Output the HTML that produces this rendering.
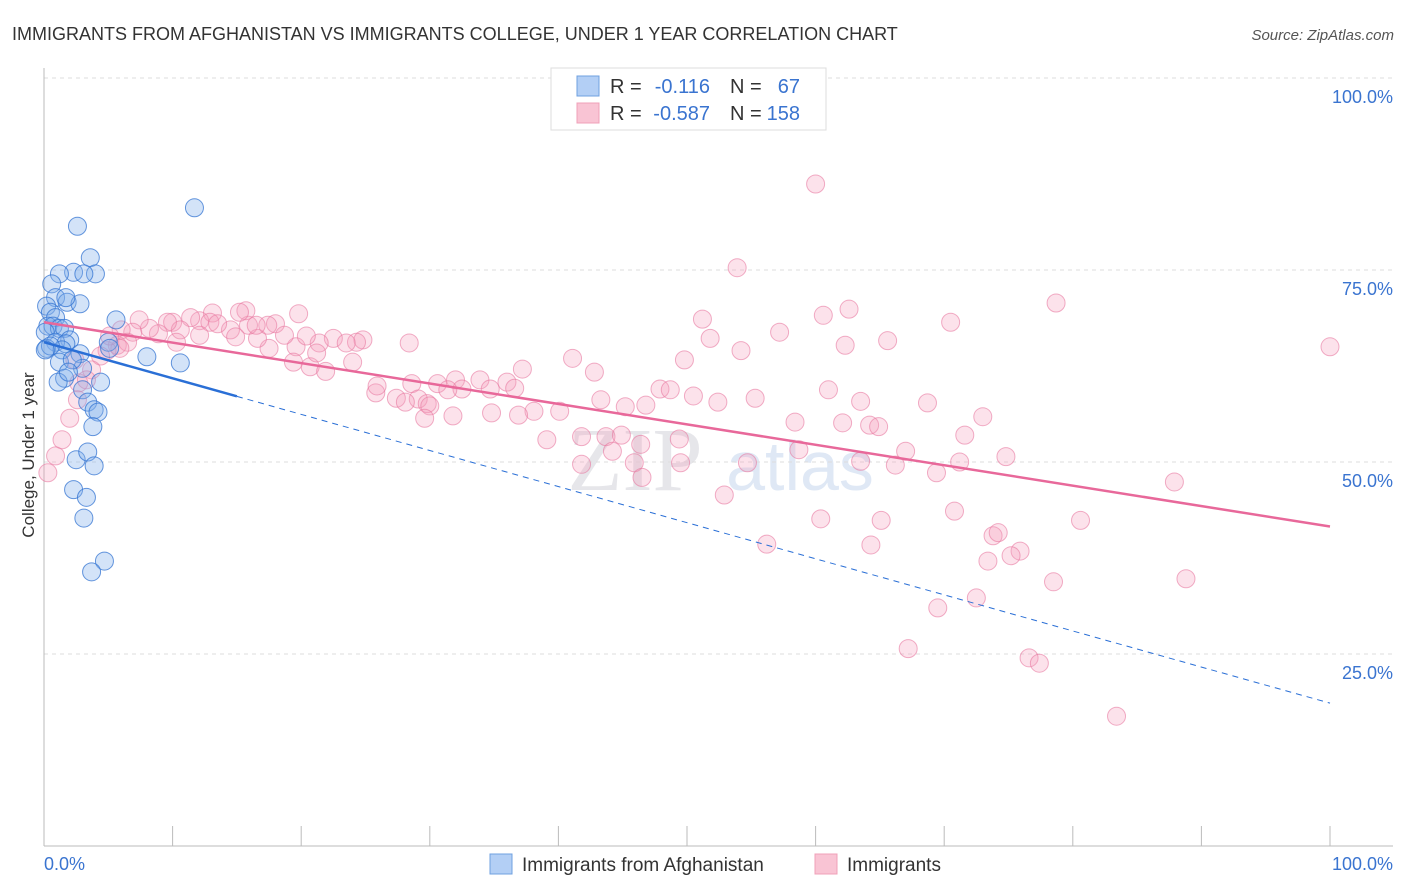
<!DOCTYPE html>
<html><head><meta charset="utf-8"><style>
body{margin:0;background:#fff;font-family:"Liberation Sans",sans-serif;}
svg{display:block}
</style></head><body>
<svg id="chart" width="1406" height="892" xmlns="http://www.w3.org/2000/svg">
<text x="12" y="40" font-size="18" fill="#333">IMMIGRANTS FROM AFGHANISTAN VS IMMIGRANTS COLLEGE, UNDER 1 YEAR CORRELATION CHART</text>
<text x="1394" y="40" font-size="15" fill="#555" font-style="italic" text-anchor="end">Source: ZipAtlas.com</text>
<text transform="translate(34,455) rotate(-90)" font-size="17" fill="#333" text-anchor="middle">College, Under 1 year</text>
<text x="635" y="490" font-size="90" fill="#e6e6ea" font-family="Liberation Serif" text-anchor="middle">ZIP</text>
<text x="800" y="490" font-size="70" fill="#dfe8f5" text-anchor="middle">atlas</text>
<g id="grid"></g><g id="axes"></g><g id="pts-pink"></g><g id="pts-blue"></g><g id="trends"></g>
<g>
<rect x="551" y="68" width="275" height="62" fill="#fff" stroke="#ddd"/>
<rect x="577" y="76" width="22" height="20" fill="#b3cff5" stroke="#6fa0e0"/>
<rect x="577" y="103" width="22" height="20" fill="#f9c4d4" stroke="#f0a0b8"/>
<text x="610" y="93" font-size="20" fill="#333">R = </text><text x="710" y="93" font-size="20" fill="#3a74d0" text-anchor="end">-0.116</text>
<text x="730" y="93" font-size="20" fill="#333">N = </text><text x="800" y="93" font-size="20" fill="#3a74d0" text-anchor="end">67</text>
<text x="610" y="120" font-size="20" fill="#333">R = </text><text x="710" y="120" font-size="20" fill="#3a74d0" text-anchor="end">-0.587</text>
<text x="730" y="120" font-size="20" fill="#333">N = </text><text x="800" y="120" font-size="20" fill="#3a74d0" text-anchor="end">158</text>
</g>
<g>
<rect x="490" y="854" width="22" height="20" fill="#b3cff5" stroke="#6fa0e0"/>
<text x="522" y="871" font-size="19" fill="#333">Immigrants from Afghanistan</text>
<rect x="815" y="854" width="22" height="20" fill="#f9c4d4" stroke="#f0a0b8"/>
<text x="847" y="871" font-size="19" fill="#333">Immigrants</text>
</g>
</svg>
<script>
const yTicks=[100,75,50,25];
const yTickLabels=["100.0%","75.0%","50.0%","25.0%"];
const xTickLabels=["0.0%","100.0%"];
const blueX=[2.6,11.7,3.6,2.3,4.0,1.2,3.1,0.6,0.9,1.8,2.8,0.2,0.5,0.9,5.6,0.3,0.7,1.2,1.6,0.1,2.0,0.9,1.7,0.2,5.0,1.4,8.0,10.6,2.8,1.2,3.0,1.6,4.4,1.1,3.0,3.4,3.9,4.2,3.8,2.5,3.4,3.9,2.3,3.3,3.1,4.7,3.7,0.5,0.1,2.2,5.1,1.7,1.9];
const blueY=[80.7,83.1,76.6,74.7,74.5,74.5,74.5,73.2,71.4,70.8,70.6,70.3,69.5,68.8,68.5,67.7,67.7,67.4,67.4,66.9,65.9,65.6,65.4,64.8,65.6,64.6,63.7,62.9,64.1,63.0,62.2,60.9,60.4,60.4,59.4,57.8,56.8,56.5,54.6,50.3,51.3,49.5,46.4,45.4,42.7,37.1,35.7,65.1,64.6,63.3,64.8,71.4,61.7];
const pinkX=[60.0,53.9,78.7,100.0,70.5,60.6,62.6,51.2,57.2,51.8,54.2,65.6,62.3,49.8,41.1,42.8,61.0,55.3,50.5,52.4,47.9,48.7,46.8,43.3,45.2,37.2,36.0,36.6,33.9,32.0,32.5,30.6,31.4,34.7,28.6,29.1,25.8,27.4,28.1,29.8,30.0,25.9,20.7,21.9,24.0,22.5,24.8,28.4,24.3,23.5,21.4,19.6,17.5,16.6,15.9,14.5,14.9,13.1,15.7,18.0,19.8,20.4,18.7,17.4,12.1,12.9,11.4,10.0,10.6,9.6,8.9,8.2,7.4,6.9,6.0,5.7,6.5,5.9,4.9,4.4,10.3,5.1,12.1,13.5,16.5,15.2,19.4,21.2,38.1,40.1,36.9,31.8,34.8,29.6,39.1,41.8,43.7,44.9,44.2,46.4,49.4,49.5,41.8,45.9,54.7,58.4,58.7,62.1,64.2,64.9,67.0,66.2,71.2,73.0,74.8,69.4,87.9,71.6,52.9,63.5,60.4,65.1,64.3,56.2,80.6,70.8,73.8,74.2,75.9,75.2,73.4,78.5,88.8,72.5,69.5,67.2,76.6,77.4,83.4,46.5,2.4,3.7,2.7,3.3,2.0,1.4,0.9,0.3,2.6,68.7,63.5];
const pinkY=[86.2,75.3,70.7,65.0,68.2,69.1,69.9,68.6,66.9,66.1,64.5,65.8,65.2,63.3,63.5,61.7,59.4,58.3,58.6,57.8,59.5,59.4,57.4,58.1,57.2,62.1,60.4,59.6,60.7,60.7,59.5,60.2,59.4,59.5,60.2,58.2,59.0,58.3,57.8,57.6,57.3,59.9,62.4,61.8,63.0,66.1,65.9,65.5,65.6,65.5,65.5,65.0,64.8,66.1,67.8,67.2,66.3,69.4,69.7,68.0,69.3,66.4,66.5,67.8,68.4,68.2,68.8,68.2,67.2,68.2,66.7,67.4,68.5,66.9,67.2,65.2,65.6,64.8,64.5,63.8,65.6,66.4,66.5,68.0,67.8,69.5,63.0,64.2,56.6,56.6,56.1,56.0,56.4,55.7,52.9,53.3,53.3,53.5,51.4,52.3,53.0,49.9,49.7,49.9,49.9,55.2,51.6,55.1,54.8,54.6,51.4,49.6,50.0,55.9,50.7,48.6,47.4,53.5,45.7,50.1,42.6,42.4,39.2,39.3,42.4,43.6,40.4,40.8,38.4,37.8,37.1,34.4,34.8,32.3,31.0,25.7,24.5,23.8,16.9,48.0,63.3,62.0,60.3,60.7,55.7,52.9,50.8,48.6,58.1,57.7,57.9];
const blueTrend=[65.6,-0.47,15];   // intercept, slope, solid-end x
const pinkTrend=[68.2,-0.266];
const NS="http://www.w3.org/2000/svg";
const X=v=>44+v*12.86, Y=v=>846-v*7.68;
function mk(tag,attrs,parent){const e=document.createElementNS(NS,tag);for(const k in attrs)e.setAttribute(k,attrs[k]);document.getElementById(parent).appendChild(e);return e;}
yTicks.forEach((t,i)=>{
  const g=mk('line',{x1:44,x2:1393,y1:Y(t),y2:Y(t),stroke:'#ddd','stroke-dasharray':'4,4'},'grid');
  
  
  const l=mk('text',{x:1393,y:Y(t)+25,'font-size':18,fill:'#3a74d0','text-anchor':'end'},'axes');
  l.textContent=yTickLabels[i];
  
  
});
const ax=mk('line',{x1:44,x2:1393,y1:846,y2:846,stroke:'#bbb'},'axes');


const ay=mk('line',{x1:44,x2:44,y1:68,y2:846,stroke:'#bbb'},'axes');


for(let i=0;i<=10;i++){
  const t=mk('line',{x1:X(i*10),x2:X(i*10),y1:826,y2:846,stroke:'#bbb'},'axes');
  
  
}
[[0,'start',44],[100,'end',1393]].forEach((d,i)=>{
  const l=mk('text',{x:d[2],y:870,'font-size':18,fill:'#3a74d0','text-anchor':d[1]},'axes');
  l.textContent=xTickLabels[i];
  
  
});
pinkX.forEach((x,i)=>{
  const c=mk('circle',{cx:X(x),cy:Y(pinkY[i]),r:9,fill:'rgba(244,160,188,0.3)',stroke:'rgba(232,120,160,0.6)','stroke-width':1},'pts-pink');
  
  
});
blueX.forEach((x,i)=>{
  const c=mk('circle',{cx:X(x),cy:Y(blueY[i]),r:9,fill:'rgba(130,175,235,0.35)',stroke:'rgba(50,115,210,0.75)','stroke-width':1},'pts-blue');
  
  
});
const bf=x=>blueTrend[0]+blueTrend[1]*x, pf=x=>pinkTrend[0]+pinkTrend[1]*x;
const b1=mk('line',{x1:X(0),y1:Y(bf(0)),x2:X(blueTrend[2]),y2:Y(bf(blueTrend[2])),stroke:'#2a6fd6','stroke-width':2.5},'trends');


const b2=mk('line',{x1:X(blueTrend[2]),y1:Y(bf(blueTrend[2])),x2:X(100),y2:Y(bf(100)),stroke:'#2a6fd6','stroke-width':1,'stroke-dasharray':'6,5'},'trends');


const p1=mk('line',{x1:X(0),y1:Y(pf(0)),x2:X(100),y2:Y(pf(100)),stroke:'#e8689a','stroke-width':2.5},'trends');


</script>
</body></html>
